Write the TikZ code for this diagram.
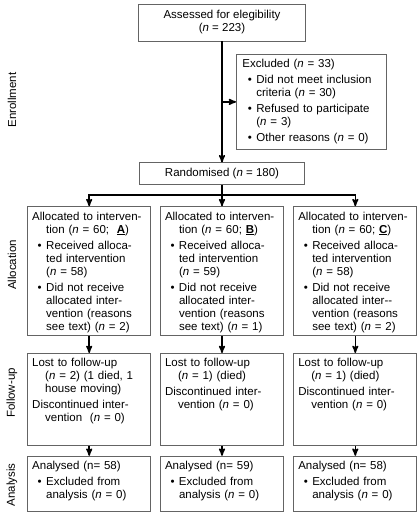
\documentclass[tikz,border=0pt]{standalone}
\usepackage{fontspec}
\setmainfont{Liberation Sans}
\usepackage{tikz}
\usetikzlibrary{arrows,positioning}
\definecolor{boxgray}{RGB}{100,100,100}
\newcommand{\nn}{\textit{n}}
\newcommand{\itm}{\hspace*{5.5pt}\makebox[8.5pt][l]{\textbullet}}
\newcommand{\ind}{\hspace*{14pt}}
\newcommand{\cnt}{\hspace*{13pt}}

\begin{document}
\begin{tikzpicture}[->,>=stealth',x=1pt,y=1pt,line width=1.5pt,node distance=10pt,font=\fontsize{11.5}{13}\selectfont]
 \tikzstyle{box}=[draw=boxgray,line width=0.8pt,align=left,inner xsep=4.5pt,inner ysep=4pt,text width=114pt,text height=9.5pt]
 \tikzstyle{mid}=[draw=boxgray,line width=0.8pt,align=center,inner sep=0pt]
 \tikzstyle{phase}=[rotate=90]

   \useasboundingbox (0,0) rectangle (420,-517);

   % enrollment
   \node[mid,minimum width=167pt,minimum height=37pt] (assess) at (222,-22.5) {Assessed for elegibility\\(\nn{} = 223)};
   \node[box,inner xsep=6pt,text width=138pt,text depth=77.5pt,anchor=north west] (excl) at (236,-54) {Excluded (\nn{} = 33)\\[3pt]
     \itm Did not meet inclusion\\ \ind criteria (\nn{} = 30)\\[3pt]
     \itm Refused to participate\\ \ind (\nn{} = 3)\\[3pt]
     \itm Other reasons (\nn{} = 0)};
   \node[mid,minimum width=165pt,minimum height=22pt,below=121pt of assess] (rand) {Randomised (\nn{} = 180)};
   \coordinate[below=10pt of rand] (split);

   % allocation
   \node[box,text depth=111.5pt,below=11pt of split] (allocb) {Allocated to interven-\\ \ind tion (\nn{} = 60; \underline{\textbf{B}})\\[3pt]
     \itm Received alloca-\\ \ind ted intervention\\ \ind (\nn{} = 59)\\[3pt]
     \itm Did not receive\\ \ind allocated inter-\\ \ind vention (reasons\\ \ind see text) (\nn{} = 1)};
   \node[box,text depth=111.5pt,left=9pt of allocb] (alloca) {Allocated to interven-\\ \ind tion (\nn{} = 60;\ \ \underline{\textbf{A}})\\[3pt]
     \itm Received alloca-\\ \ind ted intervention\\ \ind (\nn{} = 58)\\[3pt]
     \itm Did not receive\\ \ind allocated inter-\\ \ind vention (reasons\\ \ind see text) (\nn{} = 2)};
   \node[box,text depth=111.5pt,right=9.5pt of allocb] (allocc) {Allocated to interven-\\ \ind tion (\nn{} = 60; \underline{\textbf{C}})\\[3pt]
     \itm Received alloca-\\ \ind ted intervention\\ \ind (\nn{} = 58)\\[3pt]
     \itm Did not receive\\ \ind allocated inter-{}-\\ \ind vention (reasons\\ \ind see text) (\nn{} = 2)};

   % follow-up
   \node[box,text depth=74.5pt,below=17pt of alloca] (followa) {Lost to follow-up\\ \cnt(\nn{} = 2) (1 died, 1\\ \cnt house moving)\\[3pt]
     Discontinued inter-\\ \cnt vention\ \ (\nn{} = 0)};
   \node[box,text depth=74.5pt,below=17pt of allocb] (followb) {Lost to follow-up\\ \cnt(\nn{} = 1) (died)\\[3pt]
     Discontinued inter-\\ \cnt vention (\nn{} = 0)};
   \node[box,text depth=74.5pt,below=17pt of allocc] (followc) {Lost to follow-up\\ \cnt(\nn{} = 1) (died)\\[3pt]
     Discontinued inter-\\ \cnt vention (\nn{} = 0)};

   % analysis
   \node[box,text depth=37.5pt,below=10pt of followa] (analysa) {Analysed (n= 58)\\[3pt]
     \itm Excluded from\\ \ind analysis (\nn{} = 0)};
   \node[box,text depth=37.5pt,below=10pt of followb] (analysb) {Analysed (n= 59)\\[3pt]
     \itm Excluded from\\ \ind analysis (\nn{} = 0)};
   \node[box,text depth=37.5pt,below=10pt of followc] (analysc) {Analysed (n= 58)\\[3pt]
     \itm Excluded from\\ \ind analysis (\nn{} = 0)};

   % phase labels
   \node[phase] (lenrol) at (12,-100) {Enrollment};
   \node[phase] (lalloc) at (12,-265) {Allocation};
   \node[phase] (lfollow) at (12,-393) {Follow-up};
   \node[phase] (lanalys) at (12,-485) {Analysis};

   \path[->]
   (assess) edge (rand)
   (alloca) edge (followa)
   (allocb) edge (followb)
   (allocc) edge (followc)
   (followa) edge (analysa)
   (followb) edge (analysb)
   (followc) edge (analysc);
   \draw (assess |- excl.west) -- (excl.west);
   \draw[-] (rand) -- (split);
   \draw (split) -| (alloca);
   \draw (split) -- (allocb);
   \draw (split) -| (allocc);

\end{tikzpicture}
\end{document}
